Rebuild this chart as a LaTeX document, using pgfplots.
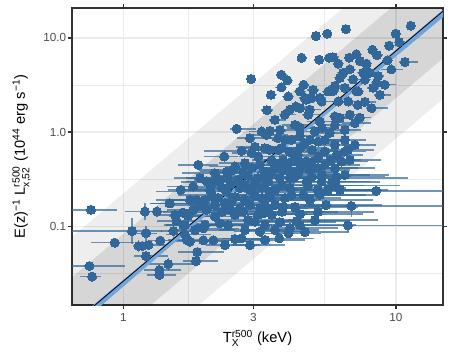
\documentclass[border=0pt]{standalone}
\usepackage{fontspec}
\setmainfont{Liberation Sans}
\usepackage{amsmath}
\usepackage{pgfplots}
\pgfplotsset{compat=1.18}
\usepackage{pgfplotstable}
\definecolor{pcol}{RGB}{49,104,153}
\definecolor{bcol}{RGB}{110,165,220}
\definecolor{grid92}{RGB}{235,235,235}
\definecolor{g20}{RGB}{51,51,51}
\definecolor{g30}{RGB}{77,77,77}

\pgfplotstableread{
T L tm tp lm lp
0.761 0.150 0.30 0.25 0.10 0.12
1.200 0.144 0.155 0.22 0.18 0.22
1.329 0.144 0.10 0.15 0.05 0.05
1.475 0.176 0.15 0.30 0.08 0.08
1.076 0.0896 0.45 0.29 0.27 0.37
1.211 0.0847 0.10 0.10 0.17 0.20
0.930 0.0674 0.18 0.18 0.05 0.05
1.138 0.0621 0.05 0.05 0.14 0.15
1.174 0.0621 0.05 0.05 0.10 0.10
1.238 0.0636 0.10 0.20 0.05 0.05
1.366 0.0707 0.10 0.25 0.10 0.10
1.211 0.0486 0.10 0.20 0.12 0.12
1.462 0.0400 0.15 0.25 0.15 0.15
1.356 0.0346 0.12 0.20 0.15 0.15
1.356 0.0306 0.10 0.15 0.10 0.10
0.751 0.0381 0.20 0.35 0.10 0.10
0.768 0.0294 0.10 0.08 0.05 0.05
1.527 0.0896 0.10 0.20 0.15 0.15
1.651 0.1405 0.15 0.30 0.10 0.10
1.727 0.1296 0.15 0.25 0.05 0.05
1.868 0.0536 0.15 0.25 0.05 0.05
1.847 0.0430 0.10 0.20 0.10 0.10
1.569 0.1142 0.15 0.30 0.05 0.05
1.683 0.0826 0.15 0.25 0.05 0.05
1.965 0.0714 0.15 0.30 0.05 0.05
2.137 0.0714 0.15 0.30 0.05 0.05
1.550 0.1328 0.15 0.30 0.05 0.05
1.687 0.1035 0.15 0.30 0.05 0.05
1.712 0.0719 0.15 0.25 0.05 0.05
1.805 0.265 0.20 0.30 0.05 0.05
1.624 0.244 0.10 0.30 0.05 0.05
1.483 0.176 0.15 0.30 0.05 0.05
1.858 0.191 0.20 0.35 0.05 0.05
1.805 0.150 0.20 0.35 0.05 0.05
2.022 0.150 0.20 0.35 0.05 0.05
2.168 0.1275 0.20 0.40 0.05 0.05
2.568 0.0737 0.15 0.35 0.05 0.05
2.719 0.0750 0.15 0.30 0.05 0.05
3.040 0.1123 0.20 0.40 0.05 0.05
2.393 0.234 0.45 0.35 0.05 0.05
2.679 0.255 0.25 0.40 0.05 0.05
2.915 0.244 0.20 0.50 0.05 0.05
2.462 0.150 0.20 0.40 0.05 0.05
2.754 0.144 0.20 0.45 0.05 0.05
1.659 0.1035 0.15 0.30 0.05 0.05
1.756 0.0690 0.15 0.30 0.05 0.05
1.965 0.0956 0.15 0.35 0.05 0.05
2.262 0.108 0.20 0.40 0.05 0.05
3.172 0.156 0.25 0.50 0.05 0.05
3.172 0.0881 0.20 0.45 0.05 0.05
2.022 0.300 0.16 0.30 0.05 0.05
2.262 0.312 0.20 0.35 0.05 0.05
1.911 0.325 0.20 0.30 0.05 0.05
6.026 0.325 0.24 0.84 0.05 0.05
6.03 0.273 0.26 0.72 0.05 0.05
8.48 0.238 0.415 1.5 0.05 0.05
6.87 0.165 0.33 2.0 0.23 0.11
6.668 0.1029 0.29 2.0 0.15 0.10
4.446 0.135 0.35 0.70 0.05 0.05
4.323 0.1142 0.30 0.57 0.20 0.05
4.037 0.0847 0.20 0.32 0.05 0.05
3.734 0.0750 0.20 0.34 0.05 0.05
4.579 0.216 0.20 0.70 0.05 0.05
4.147 0.216 0.20 0.50 0.05 0.05
4.757 0.270 0.25 0.60 0.05 0.05
4.262 0.338 0.20 0.40 0.05 0.05
4.91 0.338 0.20 0.40 0.05 0.05
3.860 0.162 0.20 0.50 0.05 0.05
3.451 0.207 0.20 0.50 0.05 0.05
3.261 0.138 0.20 0.45 0.05 0.05
2.605 1.084 0.055 0.18 0.05 0.05
1.884 0.450 0.16 0.18 0.05 0.05
2.346 0.552 0.16 0.12 0.05 0.05
2.719 0.633 0.275 0.08 0.05 0.05
3.366 1.709 0.05 0.05 0.05 0.05
3.219 1.016 0.10 0.15 0.05 0.05
2.915 0.864 0.10 0.20 0.05 0.05
3.451 1.033 0.10 0.15 0.05 0.05
2.958 0.599 0.15 0.25 0.05 0.05
2.568 0.432 0.20 0.25 0.05 0.05
2.168 0.367 0.24 0.25 0.05 0.05
2.393 0.382 0.20 0.25 0.05 0.05
3.128 0.552 0.15 0.25 0.05 0.05
3.308 0.676 0.15 0.25 0.05 0.05
2.794 0.469 0.20 0.25 0.05 0.05
3.308 0.382 0.20 0.30 0.05 0.05
2.944 3.665 0.03 0.03 0.05 0.05
3.48 2.49 0.03 0.05 0.05 0.05
3.80 4.053 0.03 0.05 0.05 0.05
4.00 3.55 0.03 0.05 0.05 0.05
3.80 2.99 0.05 0.05 0.05 0.05
4.029 2.389 0.05 0.05 0.05 0.05
4.446 2.70 0.05 0.05 0.05 0.05
4.973 2.81 0.05 0.05 0.05 0.05
3.917 1.531 0.05 0.10 0.05 0.05
3.60 1.35 0.05 0.10 0.05 0.05
4.446 1.797 0.05 0.10 0.05 0.05
4.91 2.296 0.05 0.05 0.05 0.05
5.343 2.112 0.05 0.10 0.05 0.05
5.648 2.70 0.05 0.05 0.05 0.05
6.146 2.112 0.05 0.10 0.05 0.05
6.687 2.112 0.05 0.10 0.05 0.05
7.276 2.70 0.05 0.05 0.05 0.05
8.15 1.797 0.05 0.15 0.05 0.05
4.77 1.531 0.05 0.10 0.05 0.05
5.264 1.296 0.10 0.15 0.05 0.05
5.974 1.47 0.05 0.10 0.05 0.05
6.232 1.413 0.05 0.10 0.05 0.05
5.974 1.195 0.10 0.15 0.05 0.05
7.07 1.246 0.10 0.15 0.05 0.05
4.384 1.148 0.10 0.15 0.05 0.05
5.046 1.016 0.10 0.15 0.05 0.05
3.755 1.058 0.10 0.15 0.05 0.05
3.356 0.936 0.10 0.20 0.05 0.05
3.703 0.864 0.10 0.20 0.05 0.05
4.147 0.828 0.15 0.20 0.05 0.05
4.637 0.764 0.15 0.25 0.05 0.05
5.191 0.795 0.15 0.20 0.05 0.05
6.50 0.828 0.15 0.20 0.05 0.05
6.50 0.623 0.15 0.20 0.05 0.05
5.974 0.733 0.15 0.20 0.05 0.05
6.06 0.574 0.15 0.25 0.05 0.05
5.191 0.552 0.15 0.25 0.05 0.05
5.49 0.623 0.15 0.25 0.05 0.05
4.704 0.488 0.15 0.30 0.05 0.05
4.147 0.488 0.15 0.30 0.05 0.05
3.703 0.649 0.15 0.25 0.05 0.05
3.50 0.508 0.15 0.30 0.05 0.05
6.326 0.488 0.15 0.25 0.05 0.05
5.974 0.415 0.15 0.40 0.05 0.05
6.06 0.338 0.20 0.50 0.05 0.05
4.384 0.367 0.20 0.40 0.05 0.05
3.917 0.398 0.20 0.40 0.05 0.05
4.704 0.300 0.20 0.50 0.05 0.05
5.343 0.300 0.20 0.50 0.05 0.05
4.298 1.87 0.05 0.10 0.05 0.05
4.587 3.177 0.05 0.05 0.05 0.05
4.677 2.20 0.05 0.10 0.05 0.05
5.09 10.47 0.03 0.03 0.05 0.05
5.606 11.07 0.03 0.03 0.05 0.05
6.556 12.37 0.03 0.03 0.05 0.05
11.35 13.42 0.03 0.03 0.05 0.05
10.0 11.07 0.03 0.03 0.05 0.05
10.29 8.99 0.03 0.05 0.05 0.05
9.45 8.25 0.03 0.05 0.05 0.05
8.21 7.48 0.03 0.05 0.05 0.05
8.52 6.55 0.03 0.05 0.05 0.05
4.51 6.13 0.03 0.03 0.05 0.05
5.23 5.86 0.03 0.05 0.05 0.05
5.70 6.16 0.03 0.05 0.05 0.05
5.877 6.23 0.03 0.05 0.05 0.05
6.146 5.31 0.03 0.05 0.05 0.05
6.74 6.16 0.03 0.05 0.05 0.05
7.16 6.70 0.03 0.05 0.05 0.05
7.379 5.68 0.03 0.05 0.05 0.05
7.81 5.31 0.03 0.05 0.05 0.05
9.32 5.76 0.03 0.05 0.05 0.05
10.79 5.54 0.05 0.12 0.05 0.05
9.63 4.62 0.08 0.10 0.05 0.05
8.62 3.93 0.05 0.05 0.05 0.05
8.50 3.34 0.05 0.05 0.05 0.05
8.25 2.95 0.05 0.05 0.05 0.05
7.17 2.72 0.05 0.05 0.05 0.05
6.781 4.63 0.05 0.05 0.05 0.05
6.41 4.26 0.05 0.05 0.05 0.05
6.97 3.62 0.05 0.05 0.05 0.05
6.232 3.77 0.05 0.05 0.05 0.05
5.974 3.08 0.05 0.05 0.05 0.05
5.89 2.72 0.05 0.05 0.05 0.05
6.50 2.95 0.05 0.05 0.05 0.05
4.637 2.31 0.05 0.05 0.05 0.05
5.264 2.31 0.05 0.05 0.05 0.05
7.59 4.26 0.05 0.05 0.05 0.05
8.029 4.26 0.05 0.05 0.05 0.05
2.079 0.244 0.20 0.35 0.05 0.05
2.225 0.201 0.20 0.40 0.05 0.05
2.359 0.178 0.20 0.40 0.05 0.05
2.568 0.206 0.20 0.40 0.05 0.05
2.794 0.191 0.20 0.45 0.05 0.05
3.040 0.216 0.20 0.50 0.05 0.05
3.226 0.257 0.20 0.45 0.05 0.05
3.394 0.297 0.20 0.40 0.05 0.05
3.60 0.244 0.20 0.45 0.05 0.05
3.819 0.276 0.20 0.50 0.05 0.05
4.086 0.257 0.20 0.60 0.05 0.05
3.119 0.328 0.20 0.40 0.05 0.05
2.867 0.344 0.25 0.35 0.05 0.05
2.634 0.312 0.30 0.35 0.05 0.05
2.420 0.328 0.30 0.30 0.05 0.05
2.526 0.398 0.25 0.30 0.05 0.05
2.749 0.379 0.25 0.30 0.05 0.05
2.965 0.418 0.20 0.30 0.05 0.05
3.172 0.450 0.20 0.30 0.05 0.05
3.60 0.450 0.20 0.30 0.05 0.05
3.853 0.508 0.15 0.30 0.05 0.05
4.086 0.618 0.15 0.25 0.05 0.05
4.372 0.574 0.15 0.25 0.05 0.05
3.819 0.681 0.15 0.25 0.05 0.05
4.838 0.398 0.20 0.40 0.05 0.05
5.177 0.418 0.20 0.40 0.05 0.05
5.49 0.450 0.20 0.35 0.05 0.05
5.728 0.508 0.20 0.30 0.05 0.05
4.920 0.649 0.15 0.25 0.05 0.05
4.446 0.681 0.15 0.25 0.05 0.05
5.354 0.352 0.20 0.50 0.05 0.05
4.086 0.328 0.20 0.40 0.05 0.05
3.451 0.649 0.15 0.25 0.05 0.05
3.040 0.698 0.15 0.25 0.05 0.05
3.917 0.828 0.10 0.20 0.05 0.05
4.446 0.914 0.10 0.20 0.05 0.05
4.838 0.828 0.10 0.20 0.05 0.05
4.262 1.195 0.10 0.15 0.05 0.05
5.49 0.828 0.10 0.20 0.05 0.05
5.728 0.984 0.10 0.15 0.05 0.05
5.354 1.111 0.10 0.15 0.05 0.05
6.50 1.058 0.10 0.15 0.05 0.05
6.781 1.531 0.05 0.10 0.05 0.05
7.379 1.424 0.05 0.10 0.05 0.05
7.696 2.094 0.05 0.10 0.05 0.05
8.736 2.487 0.05 0.10 0.05 0.05
9.11 3.177 0.05 0.10 0.05 0.05
7.696 3.59 0.05 0.05 0.05 0.05
7.256 1.947 0.05 0.10 0.05 0.05
2.168 0.169 0.20 0.45 0.05 0.05
2.300 0.143 0.20 0.45 0.05 0.05
2.568 0.133 0.20 0.50 0.05 0.05
2.867 0.117 0.20 0.55 0.05 0.05
3.308 0.1035 0.20 0.55 0.05 0.05
3.51 0.133 0.20 0.55 0.05 0.05
3.755 0.111 0.20 0.60 0.05 0.05
2.794 0.0918 0.20 0.45 0.05 0.05
2.420 0.1035 0.20 0.45 0.05 0.05
1.993 0.1035 0.20 0.40 0.05 0.05
1.832 0.0918 0.20 0.40 0.05 0.05
2.114 0.216 0.25 0.35 0.05 0.05
1.993 0.191 0.25 0.35 0.05 0.05
1.911 0.169 0.25 0.35 0.05 0.05
1.756 0.191 0.25 0.35 0.05 0.05
3.308 0.191 0.20 0.55 0.05 0.05
3.60 0.169 0.20 0.60 0.05 0.05
3.917 0.201 0.20 0.60 0.05 0.05
4.262 0.161 0.20 0.70 0.05 0.05
4.838 0.191 0.20 0.70 0.05 0.05
5.264 0.216 0.20 0.60 0.05 0.05
5.63 0.244 0.20 0.55 0.05 0.05
6.232 0.244 0.20 0.50 0.05 0.05
5.177 0.143 0.20 0.60 0.05 0.05
5.54 0.169 0.20 0.60 0.05 0.05
2.915 0.0636 0.15 0.35 0.05 0.05
2.359 0.0636 0.15 0.35 0.05 0.05
3.308 0.0719 0.15 0.40 0.05 0.05
3.60 0.0918 0.20 0.45 0.05 0.05
2.462 0.276 0.20 0.35 0.05 0.05
2.794 0.276 0.20 0.40 0.05 0.05
3.040 0.290 0.20 0.40 0.05 0.05
3.308 0.328 0.20 0.40 0.05 0.05
3.51 0.379 0.15 0.35 0.05 0.05
3.755 0.418 0.15 0.35 0.05 0.05
4.018 0.450 0.15 0.35 0.05 0.05
4.262 0.508 0.15 0.30 0.05 0.05
4.637 0.484 0.15 0.30 0.05 0.05
4.920 0.484 0.15 0.30 0.05 0.05
4.446 0.418 0.15 0.35 0.05 0.05
4.155 0.379 0.15 0.40 0.05 0.05
3.755 0.328 0.20 0.40 0.05 0.05
3.451 0.232 0.20 0.50 0.05 0.05
3.226 0.201 0.20 0.50 0.05 0.05
2.915 0.169 0.20 0.50 0.05 0.05
2.679 0.157 0.20 0.45 0.05 0.05
2.504 0.191 0.20 0.45 0.05 0.05
2.300 0.257 0.25 0.35 0.05 0.05
2.168 0.297 0.25 0.35 0.05 0.05
3.119 0.133 0.20 0.55 0.05 0.05
3.394 0.157 0.20 0.55 0.05 0.05
3.819 0.143 0.20 0.60 0.05 0.05
4.086 0.0963 0.20 0.50 0.05 0.05
4.446 0.1035 0.20 0.60 0.05 0.05
5.046 0.117 0.20 0.70 0.05 0.05
4.637 0.0874 0.20 0.45 0.05 0.05
5.177 0.244 0.20 0.55 0.05 0.05
5.825 0.297 0.20 0.50 0.05 0.05
6.50 0.352 0.20 0.45 0.05 0.05
6.781 0.508 0.15 0.30 0.05 0.05
6.668 0.649 0.15 0.25 0.05 0.05
7.07 0.733 0.10 0.20 0.05 0.05
4.446 1.111 0.10 0.15 0.05 0.05
4.086 1.73 0.05 0.10 0.05 0.05
4.838 1.73 0.05 0.10 0.05 0.05
}\data

\begin{document}
\begin{tikzpicture}
\begin{axis}[name=ax, scale only axis, width=278.25pt, height=222.75pt,
  xmode=log, ymode=log, xmin=0.648, xmax=14.9, ymin=0.0147, ymax=20.7,
  xtick={1,3,10}, xticklabels={1,3,10},
  ytick={0.1,1,10}, yticklabels={0.1,1.0,10.0},
  minor xtick={1.7321,5.4772}, minor ytick={0.031623,0.31623,3.1623},
  grid=both,
  major grid style={grid92, line width=1.07pt},
  minor grid style={grid92, line width=0.53pt},
  axis line style={g20, line width=1.07pt},
  tick align=outside, major tick length=2.75pt, minor tick length=0pt,
  tick style={g20, line width=1.07pt},
  ticklabel style={font=\fontsize{8.8}{10}\selectfont, text=g30},
  yticklabel style={inner xsep=1.5pt},
  xlabel={T$^{\text{r500}}_{\text{X}\vphantom{X}}$ (keV)},
  ylabel={E(z)$^{\text{−1}}$ L$^{\text{r500}}_{\text{x,52}}$ (10$^{\text{44}}$ erg s$^{\text{−1}}$)},
  label style={font=\fontsize{11}{13}\selectfont},
  xlabel style={at={(axis description cs:0.5,-0.1128)}, anchor=center},
  ylabel style={at={(axis description cs:-0.136,0.5)}, anchor=center},
]
% scatter bands
\addplot[fill=black, fill opacity=0.065, draw=none] coordinates {(0.6,0.0644) (16,194) (16,2.68) (0.6,0.000889)};
\addplot[fill=black, fill opacity=0.10, draw=none] coordinates {(0.6,0.02394) (16,72.1) (16,7.21) (0.6,0.002394)};
% error bars
\addplot[only marks, mark=none, error bars/.cd, x dir=both, x explicit relative, y dir=both, y explicit relative, error mark=none, error bar style={pcol, opacity=0.7, line width=1.07pt}]
  table[x=T, y=L, x error plus=tp, x error minus=tm, y error plus=lp, y error minus=lm]{\data};
% points
\addplot[only marks, mark=*, mark size=3.4pt, mark options={draw=pcol, fill=pcol, line width=0pt}] table[x=T, y=L]{\data};
% fit band and line
\addplot[fill=bcol, draw=none] coordinates {(0.6,0.00790) (3,0.387) (16,23.6) (16,19.6) (3,0.352) (0.6,0.00650)};
\addplot[black, line width=0.6pt] coordinates {(0.6,0.00757) (16,22.8)};
\end{axis}
\pgfresetboundingbox
\path ([shift={(-54pt,-42.75pt)}]ax.south west) rectangle ([shift={(6.75pt,6pt)}]ax.north east);
\end{tikzpicture}
\end{document}
